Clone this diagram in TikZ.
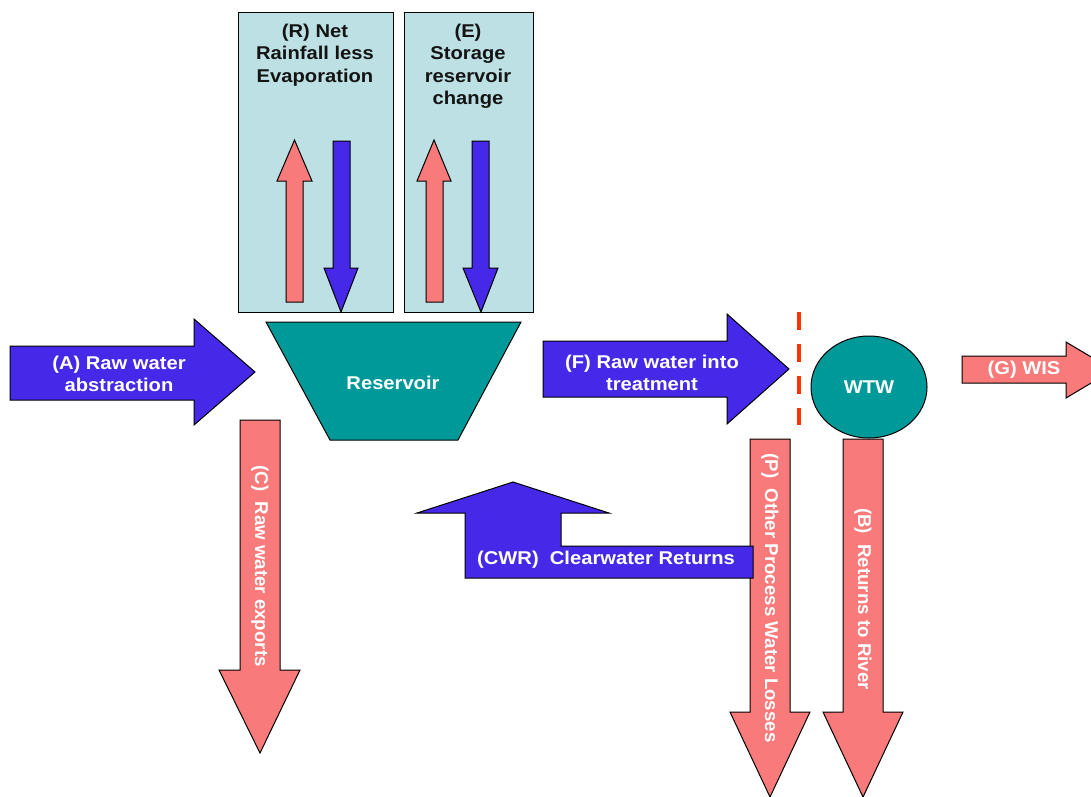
\documentclass[tikz,border=0pt]{standalone}
\usepackage{fontspec}
\usetikzlibrary{shapes.geometric}
\setmainfont{Liberation Sans}[FakeStretch=1.09]
\newfontfamily\rotfont{Liberation Sans}[FakeStretch=1.01]
\definecolor{myblue}{RGB}{70,41,232}
\definecolor{mypink}{RGB}{248,122,122}
\definecolor{myteal}{RGB}{0,153,153}
\definecolor{mybox}{RGB}{188,224,227}
\definecolor{mydash}{RGB}{255,51,0}
\tikzset{
  outl/.style={draw=black, line width=1pt, line join=miter},
  blueshape/.style={outl, fill=myblue},
  pinkshape/.style={outl, fill=mypink},
  tealshape/.style={outl, fill=myteal},
  boxshape/.style={outl, fill=mybox},
  lbl/.style={text=white, font=\fontsize{18.5}{22.5}\selectfont\bfseries, align=center, inner sep=0pt},
  boxlbl/.style={lbl, text=black!92},
  rotlbl/.style={text=white, font=\fontsize{18.5}{22.5}\selectfont\rotfont\bfseries, rotate=-90, inner sep=0pt},
  divider/.style={draw=mydash, line width=3.5pt, dash pattern=on 18pt off 14pt},
}
\begin{document}
\begin{tikzpicture}[x=1pt, y=-1pt]
\useasboundingbox (0,0) rectangle (1091,796);
\fill[white] (0,0) rectangle (1091,796);
\clip (0,0) rectangle (1091,796);

% top boxes
\path[boxshape] (238,12) rectangle (393,312);
\path[boxshape] (404,12) rectangle (533,312);
\node[boxlbl] (rlbl) at (315,55) {(R) Net\\Rainfall less\\Evaporation};
\node[boxlbl] (elbl) at (468,66.5) {(E)\\Storage\\reservoir\\change};

% arrows inside boxes
\path[pinkshape] (286,302) -- (286,181) -- (277,181) -- (294.5,140) -- (312,181) -- (303,181) -- (303,302) -- cycle;
\path[blueshape] (333,141) -- (350,141) -- (350,268) -- (358,268) -- (341,312) -- (324,268) -- (333,268) -- cycle;
\path[pinkshape] (426,302) -- (426,181) -- (417,181) -- (434,140) -- (451,181) -- (443,181) -- (443,302) -- cycle;
\path[blueshape] (472,141) -- (489,141) -- (489,268) -- (498,268) -- (481,312) -- (463,268) -- (472,268) -- cycle;

% (A) arrow
\path[blueshape] (10,346) -- (194,346) -- (194,319) -- (255,372) -- (194,425) -- (194,400) -- (10,400) -- cycle;
\node[lbl] (albl) at (119,374) {(A) Raw water\\abstraction};

% reservoir
\path[tealshape] (266,322) -- (521,322) -- (458,440) -- (330,440) -- cycle;
\node[lbl] (res) at (393,383) {Reservoir};

% (C) arrow
\path[pinkshape] (240,420) -- (280,420) -- (280,670) -- (300,670) -- (260,753) -- (219,670) -- (240,670) -- cycle;
\node[rotlbl] (clbl) at (260,566) {(C)\ \ Raw water exports};

% (F) arrow
\path[blueshape] (543,341) -- (727,341) -- (727,314) -- (789,369) -- (727,424) -- (727,397) -- (543,397) -- cycle;
\node[lbl] (flbl) at (652,373) {(F) Raw water into\\treatment};

% divider
\coordinate (d1) at (799,312);
\coordinate (d2) at (799,425);
\draw[divider] (d1) -- (d2);

% WTW
\node[tealshape, ellipse, minimum width=116pt, minimum height=102pt, inner sep=0pt] (wtw) at (869,387) {};
\node[lbl] (wtwlbl) at (wtw) {WTW};

% (G) arrow
\path[pinkshape] (962,356) -- (1066,356) -- (1066,342) -- (1113,370) -- (1066,398) -- (1066,383) -- (962,383) -- cycle;
\node[lbl] (glbl) at (1024,370) {(G) WIS};

% (P) and (B) arrows
\path[pinkshape] (750,439) -- (790,439) -- (790,712) -- (810,712) -- (770,797) -- (730,712) -- (750,712) -- cycle;
\node[rotlbl] (plbl) at (770,598) {(P)\ \ Other Process Water Losses};
\path[pinkshape] (843,439) -- (883,439) -- (883,712) -- (903,712) -- (863,797) -- (823,712) -- (843,712) -- cycle;
\node[rotlbl] (blbl) at (863,599) {(B)\ \ Returns to River};

% (CWR) arrow
\path[blueshape] (465,578) -- (465,513) -- (417,513) -- (513,482) -- (609,513) -- (561,513) -- (561,546) -- (753,546) -- (753,578) -- cycle;
\node[lbl] (cwrlbl) at (606,560) {(CWR)\ \ Clearwater Returns};
\end{tikzpicture}
\end{document}
